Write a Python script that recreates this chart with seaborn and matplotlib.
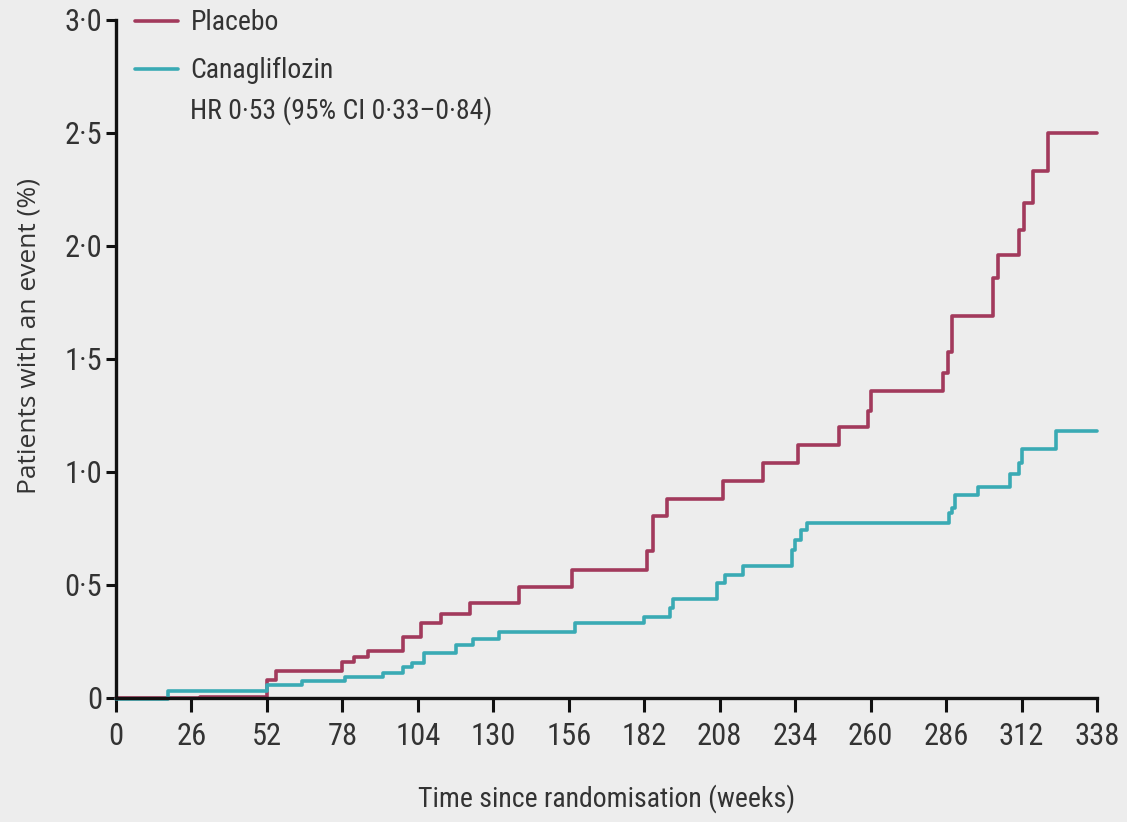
import numpy as np
import pandas as pd
import matplotlib
matplotlib.use("Agg")
import matplotlib.pyplot as plt
from matplotlib import font_manager
from matplotlib.lines import Line2D
import seaborn as sns

# ---- data ----
placebo_weeks = [0, 29, 52, 55, 78, 82, 87, 99, 105, 112, 122, 139, 157, 183, 185, 190,
                 209, 223, 235, 249, 259, 260, 285, 286.5, 288, 302, 304, 311, 313, 316, 321, 338]
placebo_pct = [0.0, 0.005, 0.08, 0.12, 0.16, 0.18, 0.21, 0.27, 0.33, 0.37, 0.42, 0.49, 0.565, 0.65, 0.805, 0.88,
               0.96, 1.04, 1.12, 1.20, 1.27, 1.36, 1.44, 1.53, 1.69, 1.86, 1.96, 2.07, 2.19, 2.33, 2.50, 2.50]

cana_weeks = [0, 18, 52, 64, 79, 92, 99, 102, 106, 117, 123, 132, 158, 182, 191, 192, 207, 210, 216,
              233, 234, 236, 238, 287, 288, 289, 297, 308, 311, 312, 324, 338]
cana_pct = [-0.005, 0.03, 0.058, 0.075, 0.093, 0.11, 0.137, 0.155, 0.20, 0.235, 0.26, 0.29, 0.33, 0.36, 0.40, 0.44,
            0.51, 0.545, 0.585, 0.655, 0.70, 0.745, 0.775, 0.82, 0.84, 0.90, 0.935, 0.99, 1.04, 1.10, 1.18, 1.18]

groups = ["Placebo", "Canagliflozin"]
colors = ["#a23a5c", "#3aaab4"]
x_ticks = [0, 26, 52, 78, 104, 130, 156, 182, 208, 234, 260, 286, 312, 338]
y_ticks = [0, 0.5, 1.0, 1.5, 2.0, 2.5, 3.0]
y_tick_labels = ["0", "0·5", "1·0", "1·5", "2·0", "2·5", "3·0"]
hr_text = "HR 0·53 (95% CI 0·33–0·84)"
x_label = "Time since randomisation (weeks)"
y_label = "Patients with an event (%)"

df = pd.concat([
    pd.DataFrame({"week": placebo_weeks, "pct": placebo_pct, "group": groups[0]}),
    pd.DataFrame({"week": cana_weeks, "pct": cana_pct, "group": groups[1]}),
], ignore_index=True)

# ---- fonts ----
def has_font(name):
    try:
        font_manager.findfont(font_manager.FontProperties(family=name), fallback_to_default=False)
        return True
    except Exception:
        return False

narrow = None
for cand in ["Roboto Condensed", "Liberation Sans Narrow", "Open Sans Condensed", "DejaVu Sans Condensed"]:
    if has_font(cand):
        narrow = cand
        break
if narrow is None:
    narrow = "Liberation Sans"
    scale = 0.85
else:
    scale = 1.0

sns.set_theme(style="white")
bg = "#ededed"
txt = "#333333"
plt.rcParams["font.family"] = [narrow, "DejaVu Sans"]

tick_fs = 22 * scale
leg_fs = 20 * scale

fig = plt.figure(figsize=(11.27, 8.22), dpi=100, facecolor=bg)
ax = fig.add_axes([0.1029, 0.1509, 0.8705, 0.8248])
ax.set_facecolor(bg)

sns.lineplot(data=df, x="week", y="pct", hue="group", hue_order=groups,
             palette=colors, drawstyle="steps-post", estimator=None, sort=False,
             linewidth=2.6, legend=False, ax=ax, clip_on=False)

ax.set_xlim(0, 338)
ax.set_ylim(0, 3.0)
ax.set_xticks(x_ticks)
ax.set_xticklabels([str(t) for t in x_ticks])
ax.set_yticks(y_ticks)
ax.set_yticklabels(y_tick_labels)

for s in ["top", "right"]:
    ax.spines[s].set_visible(False)
for s in ["left", "bottom"]:
    ax.spines[s].set_color("#111111")
    ax.spines[s].set_linewidth(2.4)

ax.tick_params(axis="x", direction="out", length=10, width=2.2, color="#111111",
               labelsize=tick_fs, labelcolor=txt, pad=7, bottom=True)
ax.tick_params(axis="y", direction="out", length=7, width=2.2, color="#111111",
               labelsize=tick_fs, labelcolor=txt, pad=3, left=True)

ax.set_xlabel(x_label, fontsize=leg_fs, color=txt, labelpad=24)
ax.set_ylabel(y_label, fontsize=19, color=txt, family=["Open Sans", "DejaVu Sans"])
ax.yaxis.set_label_coords(-0.0754, 0.534)

handles = [Line2D([0], [0], color=c, lw=2.6) for c in colors]
leg = ax.legend(handles, groups, loc="upper left", bbox_to_anchor=(0.008, 1.032),
                frameon=False, fontsize=leg_fs, handlelength=1.55, handletextpad=0.45,
                labelspacing=0.75, borderaxespad=0)
for t in leg.get_texts():
    t.set_color(txt)

ax.text(0.0755, 0.867, hr_text, transform=ax.transAxes, fontsize=leg_fs, color=txt,
        ha="left", va="center")

fig.savefig("out.png", dpi=100, facecolor=bg)
